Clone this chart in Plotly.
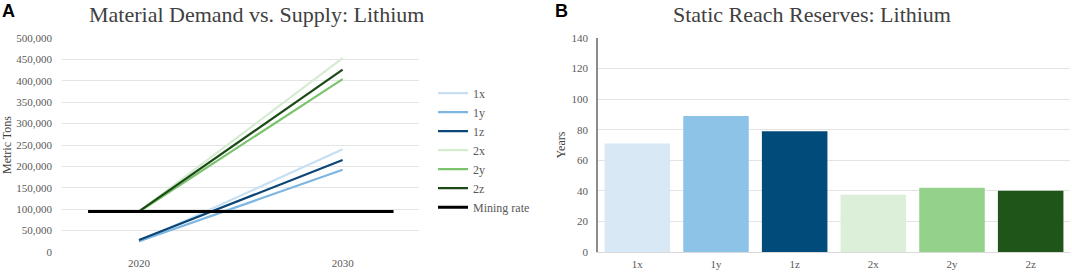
import plotly.graph_objects as go

# panel A: demand scenarios vs. mining rate (metric tons)
years = [2020, 2030]
demand_1x = [24000, 240000]
demand_1y = [25000, 192000]
demand_1z = [28000, 215000]
demand_2x = [95000, 453000]
demand_2y = [94000, 404000]
demand_2z = [95000, 426000]
mining_years = [2017.5, 2032.5]
mining_rate = [94500, 94500]

# panel B: static reach of reserves (years)
scenarios = ['1x', '1y', '1z', '2x', '2y', '2z']
reach_years = [71, 89, 79, 37.5, 42, 40]

line_colors = ['#c6dff2', '#7db6e1', '#0b4677', '#d6ecd0', '#7cc36d', '#1b4a16']
bar_colors = ['#d8e8f5', '#8ec3e8', '#004b7a', '#dcefd9', '#94d18b', '#1f5518']

serif = 'Liberation Serif'
tick_font = dict(family=serif, size=11, color='#595959')
grid = '#e4e4e4'

fig = go.Figure()

# demand lines
series = [demand_1x, demand_1y, demand_1z, demand_2x, demand_2y, demand_2z]
for name, vals, col in zip(scenarios, series, line_colors):
    fig.add_trace(go.Scatter(x=years, y=vals, name=name, mode='lines',
                             line=dict(color=col, width=2.2), xaxis='x', yaxis='y'))
fig.add_trace(go.Scatter(x=mining_years, y=mining_rate, name='Mining rate', mode='lines',
                         line=dict(color='#000000', width=3), xaxis='x', yaxis='y'))

# reach bars
fig.add_trace(go.Bar(x=scenarios, y=reach_years, marker=dict(color=bar_colors, line=dict(width=0)),
                     showlegend=False, xaxis='x2', yaxis='y2'))

fig.update_layout(
    width=1072, height=272,
    margin=dict(l=0, r=0, t=38, b=20, autoexpand=False),
    paper_bgcolor='white', plot_bgcolor='white',
    font=dict(family=serif, color='#595959'),
    bargap=0.167,
    xaxis=dict(domain=[62/1072, 419/1072], range=[2016.22, 2033.75], tickvals=years,
               anchor='y', automargin=False,
               showgrid=False, zeroline=False, showline=False, tickfont=tick_font,
               ticklabelstandoff=3),
    yaxis=dict(range=[0, 500000], dtick=50000, tickformat=',d', gridcolor=grid, gridwidth=1,
               anchor='x', automargin=False,
               zeroline=False, showline=False, tickfont=tick_font, ticklabelstandoff=9,
               title=dict(text='Metric Tons', font=dict(family=serif, size=12, color='#404040'),
                          standoff=6)),
    xaxis2=dict(domain=[598/1072, 1070/1072], showgrid=False, zeroline=False,
                anchor='y2', automargin=False,
                showline=True, linecolor='#d9d9d9', linewidth=1, tickfont=tick_font,
                ticklabelstandoff=2),
    yaxis2=dict(range=[0, 140], dtick=20, gridcolor=grid, gridwidth=1, zeroline=False,
                anchor='x2', automargin=False,
                showline=True, linecolor='#8c8c8c', linewidth=1.5, tickfont=tick_font,
                ticklabelstandoff=6,
                title=dict(text='Years', font=dict(family=serif, size=12, color='#404040'),
                           standoff=3)),
    legend=dict(x=433/1072, y=0.81, xanchor='left', yanchor='top', tracegroupgap=0,
                font=dict(family=serif, size=12, color='#595959'), itemwidth=30,
                bgcolor='rgba(0,0,0,0)'),
    annotations=[
        dict(text='Material Demand vs. Supply: Lithium', x=256/1072, y=1, xref='paper', yref='paper',
             yshift=38, xanchor='center', yanchor='top', showarrow=False,
             font=dict(family=serif, size=22, color='#404040')),
        dict(text='Static Reach Reserves: Lithium', x=812/1072, y=1, xref='paper', yref='paper',
             yshift=38, xanchor='center', yanchor='top', showarrow=False,
             font=dict(family=serif, size=22, color='#404040')),
        dict(text='<b>A</b>', x=0, y=1, xref='paper', yref='paper', yshift=39,
             xanchor='left', yanchor='top', showarrow=False,
             font=dict(family='Liberation Sans', size=18, color='#000000')),
        dict(text='<b>B</b>', x=553/1072, y=1, xref='paper', yref='paper', yshift=39,
             xanchor='left', yanchor='top', showarrow=False,
             font=dict(family='Liberation Sans', size=18, color='#000000')),
    ],
)

# drop the default page margin so the figure sits at the window's corner
fig.write_html('out.html', config={'displayModeBar': False},
               post_script="document.body.style.margin='0';")
